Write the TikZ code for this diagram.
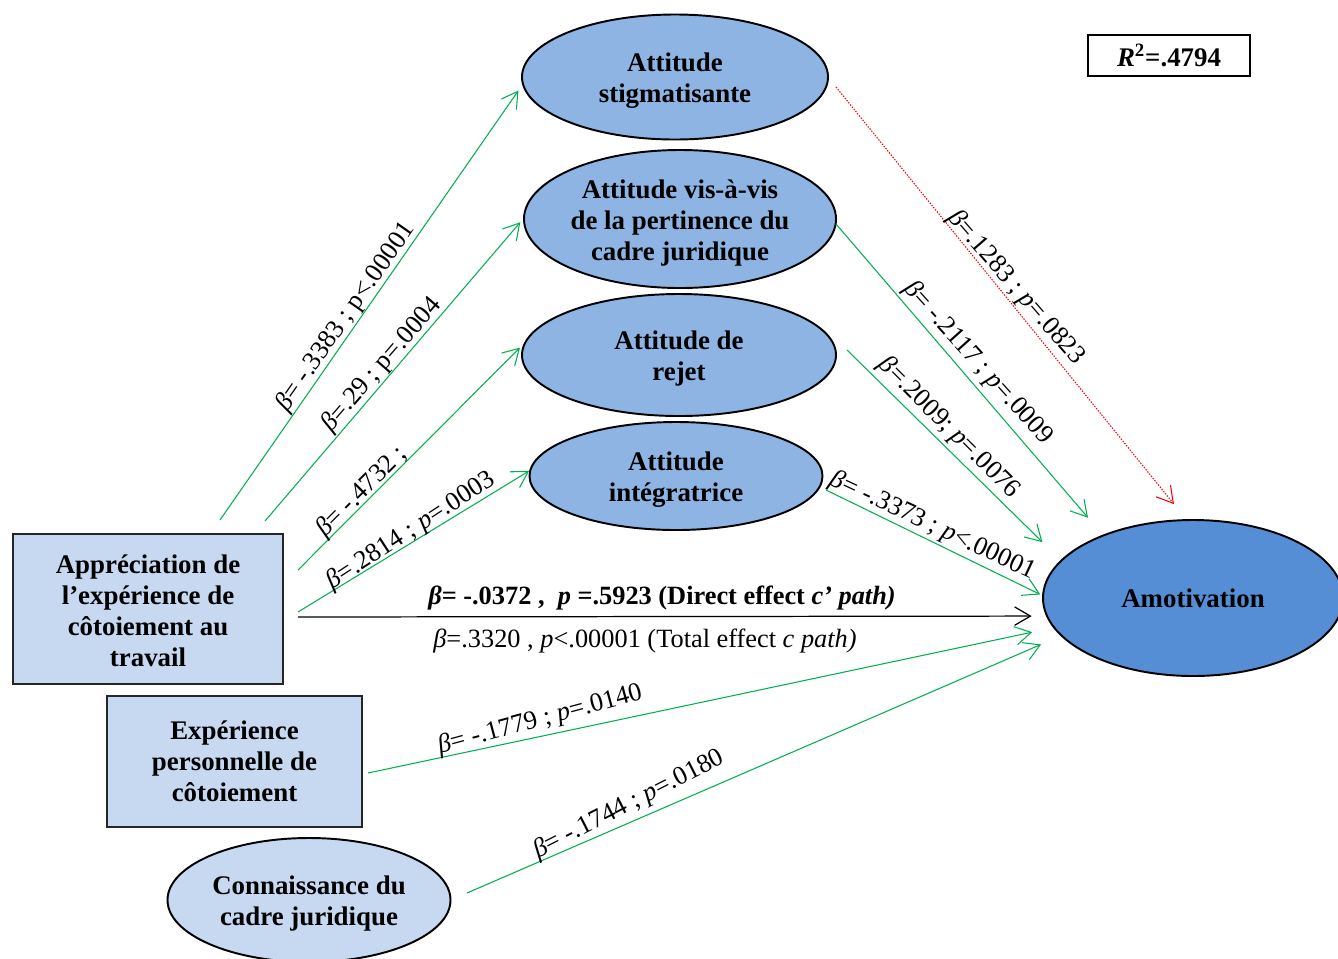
\documentclass[tikz,border=0pt]{standalone}
\usepackage{fontspec}
\setmainfont{Liberation Serif}
\usetikzlibrary{arrows.meta,shapes.geometric}
\definecolor{gr}{HTML}{00B050}
\definecolor{lightb}{HTML}{C6D9F1}
\definecolor{midb}{HTML}{8EB4E3}
\definecolor{darkb}{HTML}{558ED5}
\newcommand{\lw}{\rule{0pt}{15pt}}
\newcommand{\lv}{\rule{0pt}{13pt}}
\begin{document}
\begin{tikzpicture}[x=0.02cm,y=-0.02cm,
  nodetext/.style={font=\fontsize{15.3}{17.6}\selectfont\bfseries, align=center, text=black},
  med/.style={ellipse, draw=black, line width=1.1pt, fill=midb, inner sep=0pt, nodetext},
  boxn/.style={rectangle, draw=black!85, line width=1.1pt, fill=lightb, inner sep=0pt, nodetext},
  lab/.style={font=\fontsize{15}{17}\selectfont, inner sep=0pt},
  tipv/.style={-{Straight Barb[length=9pt,width=10.5pt]}},
  garrow/.style={draw=gr, line width=0.6pt, tipv},
  rarrow/.style={draw=red, line width=0.6pt, dash pattern=on 0.8pt off 0.8pt, tipv},
  barrow/.style={draw=black, line width=0.7pt, tipv}
]
\useasboundingbox (0,0) rectangle (1338,958);

% nodes
\node[med, minimum width=306*0.02cm, minimum height=125*0.02cm] (stig) at (675,77) {\lw Attitude\\stigmatisante};
\node[med, minimum width=312*0.02cm, minimum height=138*0.02cm] (vis) at (680,219) {\lw Attitude vis-à-vis\\de la pertinence du\\cadre juridique};
\node[med, minimum width=314*0.02cm, minimum height=122*0.02cm] (rej) at (679,355) {\lw Attitude de\\rejet};
\node[med, minimum width=293*0.02cm, minimum height=108*0.02cm] (integ) at (676,476) {\lw Attitude\\intégratrice};
\node[med, fill=darkb, minimum width=300*0.02cm, minimum height=156*0.02cm] (amot) at (1193,598) {Amotivation};
\node[boxn, minimum width=270*0.02cm, minimum height=150*0.02cm] (app) at (148,609) {\lv Appréciation de\\l’expérience de\\côtoiement au\\travail};
\node[boxn, minimum width=255*0.02cm, minimum height=131*0.02cm] (exp) at (234.5,761.5) {Expérience\\personnelle de\\côtoiement};
\node[med, fill=lightb, minimum width=283*0.02cm, minimum height=124*0.02cm] (conn) at (309,900) {\lw Connaissance du\\cadre juridique};
\node[draw=black, line width=1.1pt, fill=white, minimum width=162*0.02cm, minimum height=41*0.02cm, inner sep=0pt, nodetext] (r2) at (1169,55.5) {\textit{R}\textsuperscript{2}=.4794};

% start coordinates
\coordinate (s1) at (220,520);
\coordinate (s2) at (265,521);
\coordinate (s3) at (298,570);
\coordinate (s4) at (298,612);
\coordinate (s5) at (298,617);
\coordinate (s6) at (836,87);
\coordinate (s7) at (836,224);
\coordinate (s8) at (847,350);
\coordinate (s9) at (826,490);
\coordinate (s10) at (368,773);
\coordinate (s11) at (467,893);

% connectors
\draw[garrow, shorten >=3.8pt] (s1) -- (stig.183.6);
\draw[garrow, shorten >=2.4pt] (s2) -- (vis.180.6);
\draw[garrow, shorten >=2.8pt] (s3) -- (rej.176.9);
\draw[garrow] (s4) -- (integ.178);
\draw[barrow, shorten >=8.2pt] (s5) -- (amot.187.4);
\draw[rarrow, shorten >=11pt] (s6) -- (amot.95.7);
\draw[garrow, shorten >=12.8pt] (s7) -- (amot.145.9);
\draw[garrow, shorten >=14.5pt] (s8) -- (amot.164.3);
\draw[garrow, shorten >=1.2pt] (s9) -- (amot.179.2);
\draw[garrow, shorten >=12.2pt] (s10) -- (amot.192);
\draw[garrow, shorten >=12.1pt] (s11) -- (amot.196.5);

% labels
\node[lab, rotate=55] (l1) at (346,317) {\textit{β}= -.3383 ; p<.00001};
\node[lab, rotate=49] (l2) at (382,365) {\textit{β}=.29 ; p=.0004};
\node[lab, rotate=45] (l3) at (362,492) {\textit{β}= -.4732 ;};
\node[lab, rotate=33] (l4) at (411,531) {\textit{β}=.2814 ; \textit{p}=.0003};
\node[lab, rotate=-49] (l6) at (1016,288) {\textit{β}=.1283 ; \textit{p}=.0823};
\node[lab, rotate=-48] (l7) at (978,363) {\textit{β}= -.2117 ; \textit{p}=.0009};
\node[lab, rotate=-45] (l8) at (949,428) {\textit{β}=.2009; \textit{p}=.0076};
\node[lab, rotate=-25] (l9) at (933,526) {\textit{β}= -.3373 ; \textit{p}<.00001};
\node[lab, rotate=15] (l10) at (540,720) {\textit{β}= -.1779 ; \textit{p}=.0140};
\node[lab, rotate=27] (l11) at (629,805) {\textit{β}= -.1744 ; \textit{p}=.0180};
\node[lab, font=\fontsize{15}{17}\selectfont\bfseries] (ldir) at (662,598) {\textit{β}= -.0372 ,\ \ \textit{p} =.5923 (Direct effect \textit{c’ path)}};
\node[lab] (ltot) at (645,641) {\textit{β}=.3320 , \textit{p}<.00001 (Total effect \textit{c path)}};
\end{tikzpicture}
\end{document}
